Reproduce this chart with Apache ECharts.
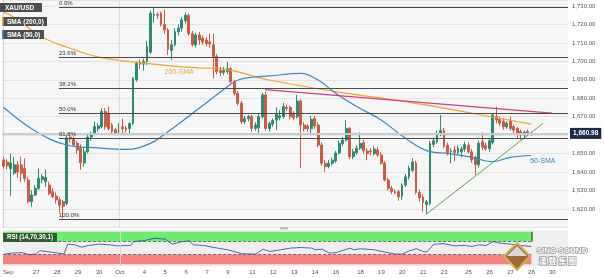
<!DOCTYPE html>
<html><head><meta charset="utf-8">
<script src="https://cdn.jsdelivr.net/npm/echarts@6/dist/echarts.min.js"></script>
<style>html,body{margin:0;padding:0;background:#fff}#c{width:604px;height:278px}</style>
</head><body><div id="c"></div>
<script>
const SLOTS = 162;
const dayLabels = ['Sep','27','28','29','30','Oct','4','5','6','7','9','11','12','13','14','16','18','19','20','21','23','25','26','27','28','30'];
const labelSlots = [1,9,15,21,27,33,40,46,52,58,64,71,77,83,89,95,102,108,114,120,126,133,139,145,151,157];
const monthSlot = 33;
// [open, close, low, high]
const ohlc = [
[1646.6,1643.3,1642,1648.4],[1645.5,1643.5,1641.5,1647],[1642,1645,1627,1650],[1639.5,1644,1638.5,1648.4],
[1644,1640,1637,1646],[1643.9,1639.4,1634.8,1648.4],[1642,1636.6,1634.8,1647.5],[1635.7,1624,1623,1637.5],
[1624,1627.6,1621.3,1630.3],[1627.6,1631.2,1627,1633],[1631.2,1636.6,1630.3,1642],[1636,1637.5,1634,1639],
[1634.8,1637,1632,1641.5],[1633,1628.5,1627.6,1634.8],[1629.4,1626.7,1625.8,1631.2],[1627,1625,1623,1629],
[1625,1622,1618,1626.5],[1624,1621.5,1615,1625],[1623,1658.5,1622,1660],[1659,1658,1656,1661],
[1658.3,1654.7,1653.8,1659.2],[1655.6,1652,1650,1657],[1653,1645,1641.2,1655],[1645,1651,1643,1653],
[1651,1659,1650,1661],[1659,1661,1657,1662],[1661,1664.6,1660,1667.3],[1663.5,1665,1662,1666.5],
[1664.6,1672.8,1663.7,1674.6],[1672.8,1664.6,1663,1674.6],[1672,1663.7,1662.5,1675.5],[1665.5,1662,1661,1666.5],
[1663,1661,1660,1664],[1661,1664.5,1660.1,1666.5],[1664.5,1663.5,1661,1669],[1664,1663,1661.5,1665],
[1663.7,1666.4,1660.1,1666.8],[1666.4,1690.8,1665.5,1691.5],[1690,1699,1689,1700],[1699.5,1698.5,1696,1701],
[1698.5,1700,1695,1701.5],[1700,1708,1698,1711],[1705,1726,1704,1727.5],[1725,1725.5,1721,1729.3],
[1725.5,1725,1723,1726.5],[1726,1720,1719,1727],[1720,1717,1715,1728],[1717,1706.5,1703.5,1718],
[1706,1709,1700.7,1711.5],[1709,1716,1708,1718],[1716,1718,1714,1720],[1718,1722.5,1716,1724],
[1722,1725,1720.5,1726.5],[1725,1715,1714,1726],[1715,1709,1708,1716.5],[1709,1714.3,1707.5,1715.5],
[1714.3,1711.6,1709,1716],[1712.5,1710.5,1709,1714],[1711.5,1709.5,1708,1713],[1710.5,1709.5,1707.5,1715],
[1709,1702.6,1690.8,1715],[1702.6,1694.4,1693,1704],[1695,1694,1692,1697],[1694,1695,1692.5,1697],
[1694.5,1696,1693,1699.8],[1696,1689,1688,1697],[1689,1682.7,1681.5,1690],[1682.7,1677.3,1676,1684],
[1677.3,1667.3,1666,1678.5],[1667.3,1669,1666,1670.5],[1669,1670,1667.5,1671],[1670,1663.7,1661.9,1671],
[1663.7,1665.5,1662.5,1667],[1664,1670,1661,1671.5],[1670,1681.8,1669,1683],[1681.8,1663.7,1662.5,1683.5],
[1663.7,1666.4,1662,1667.5],[1666,1668,1664.5,1669],[1668.2,1671.8,1662.8,1675],[1669.5,1670.5,1668,1673.5],
[1670,1675.5,1669,1677.5],[1675,1674.5,1673,1676.5],[1675,1670,1668.5,1676],[1672,1669.5,1668,1673],
[1670,1678.5,1669,1681.8],[1678.5,1665.5,1642.1,1679.5],[1665.5,1663.5,1662,1667],[1665,1663.5,1662,1666],
[1663.5,1668.5,1660,1670.5],[1669,1665,1663.5,1670.5],[1665.5,1654.7,1653.5,1667],[1654.7,1644.8,1643.5,1656],
[1644.8,1643,1640.2,1646.5],[1643,1644.8,1642,1646.5],[1644.8,1646.5,1643.5,1648],[1646,1650.4,1645,1651.5],
[1650.4,1655.6,1649.5,1657],[1655.5,1657.4,1654,1659],[1657.4,1663.7,1656.5,1668.2],[1663.7,1648.4,1647,1664.5],
[1648.4,1651,1647,1652.5],[1650.5,1653,1649.5,1654.5],[1653,1655.5,1652,1661.5],[1656,1651.5,1650,1657.5],
[1651.5,1650,1646.5,1653],[1651.5,1651,1649,1653],[1650,1652.5,1649,1654],[1652,1649.3,1648,1653.5],
[1649.3,1644.8,1644,1651],[1644.8,1635.7,1635,1646],[1635.7,1631.2,1630,1637],[1631.2,1629.4,1628,1632.5],
[1629.4,1629,1628,1630.5],[1629.4,1626.7,1624.5,1630.5],[1627,1633,1625,1634],[1633,1637.5,1632,1639],
[1637.5,1642,1636,1643.5],[1641,1645.5,1640,1647.5],[1645,1629,1628,1646],[1629,1626,1624,1630.5],
[1626.5,1623.5,1618.6,1628],[1622.5,1624,1617.5,1625],[1623,1655.6,1622,1657],[1655,1657,1653.5,1658.5],
[1656.5,1661,1655.5,1662.5],[1661,1662.5,1659.5,1670.9],[1662.5,1654,1653,1664],[1654.5,1650.5,1649,1656],
[1651,1651.3,1644.8,1653],[1652,1650.5,1646,1654],[1650.5,1653,1649.5,1654.5],[1651,1652.5,1648,1654],
[1652.5,1655,1651,1656.5],[1654.5,1651,1650,1656],[1651,1646.6,1645,1652.5],[1648,1644,1638.5,1649],
[1644,1655.6,1642.5,1657],[1656.5,1653.5,1652,1661.5],[1654.5,1652.7,1651.5,1656],[1652.7,1657,1651,1658],
[1656,1671,1655,1672],[1670,1668.2,1666.5,1675.5],[1668.5,1666.5,1665,1670],[1667.5,1664.6,1663,1669],
[1664.6,1666.5,1663.5,1667.5],[1668,1663.7,1662.5,1670],[1664.6,1662.8,1660.5,1665.5],[1663.7,1661,1658.5,1664.5],
[1662,1660.1,1657.5,1663],[1660.1,1661.5,1658,1662.5],[1661.9,1661,1659.5,1663],[1660.5,1660.98,1659.8,1661.8]
];
// [slot, value]
const sma200 = [[0,1726.5],[2,1725],[11,1713.2],[18,1707.8],[27,1702.4],[37,1699.7],[42,1698.6],[56,1696.4],[61,1696.2],[76,1689.9],[95,1683.6],[115,1678.2],[134,1671.9],[151,1666]];
const sma50 = [[0,1675],[9,1662.3],[18,1654.7],[27,1653.1],[35,1652.3],[42,1655.6],[47,1661.9],[56,1674.7],[64,1686.3],[67,1689.9],[71,1691.4],[76,1692.1],[85,1693.5],[90,1689.9],[95,1682.7],[101,1675.5],[108,1668.3],[115,1658.3],[122,1651.1],[127,1650.2],[133,1648.4],[140,1645.7],[145,1648],[151,1649]];
const rsi = [[0,31.5],[2,34.5],[5,36],[7,29.4],[9,31.5],[10,41.5],[12,39.4],[15,34.5],[17,32.5],[18,61.8],[20,59.8],[22,52.6],[24,57.7],[27,61.8],[30,59.8],[32,56.6],[36,57.7],[37,69.7],[40,72.8],[43,80],[46,76.9],[48,61.8],[51,69.7],[53,71.8],[54,59.7],[57,57.7],[60,51.5],[64,44.5],[68,32.4],[72,31.5],[74,46.6],[76,39.4],[79,44.5],[82,49.7],[85,51.5],[88,49.7],[89,44.5],[91,46.6],[93,34.5],[95,36],[99,49.7],[100,44.5],[102,47.7],[106,44.5],[109,37.5],[112,31.5],[114,31.5],[116,41.5],[118,47.7],[120,39.4],[121,37.5],[123,61.8],[126,63],[129,56.6],[132,57.7],[134,54.6],[136,59.8],[138,57.7],[140,69.7],[142,64.8],[145,61.8],[148,57.7],[151,54.6]];
const fibHigh = 1729.3, fibLow = 1614.5, fibStart = 15.8;
const fibPct = [0, 23.6, 38.2, 50, 61.8, 100];
const lastPrice = 1660.98;
const supportLine = [[120.85,1617.05],[154.3,1666.35]];
const resistLine = [[74.8,1684.7],[156.9,1672]];
const rsiUpper = 70, rsiLower = 30;
const sma200Tag = [50.2, 1694.3], sma50Tag = [154.3, 1646.0];

const lastSlot = ohlc.length - 1;
const cats = Array.from({length: SLOTS}, (_, i) => { const k = labelSlots.indexOf(i); return k >= 0 ? dayLabels[k] : ''; });
const fmt = v => v.toLocaleString('en-US', {minimumFractionDigits: 2, maximumFractionDigits: 2});
const FONT = 'Arial, "Liberation Sans", sans-serif';
const GREEN = '#2e8b72', RED = '#cf5b47';

const fibLines = fibPct.map(p => {
  const lv = fibHigh - p / 100 * (fibHigh - fibLow);
  return [{coord: [fibStart, lv], label: {formatter: p.toFixed(1) + '%'}}, {coord: [SLOTS - 0.5, lv]}];
});

const chart = echarts.init(document.getElementById('c'), null, {renderer: 'canvas'});
chart.setOption({
  animation: false,
  textStyle: {fontFamily: FONT},
  grid: [
    {left: 2, right: 36, top: 0, height: 227.5, show: true, backgroundColor: '#f6f6f6', borderWidth: 0},
    {left: 2, right: 36, top: 230, height: 36, show: true, backgroundColor: '#efefef', borderWidth: 0}
  ],
  xAxis: [
    {type: 'category', gridIndex: 0, data: cats, boundaryGap: true, show: false},
    {type: 'value', gridIndex: 0, min: -0.5, max: SLOTS - 0.5, show: false},
    {type: 'category', gridIndex: 1, data: cats, boundaryGap: true, axisLine: {show: false}, axisTick: {show: false},
     axisLabel: {interval: 0, fontSize: 6, color: '#555', margin: 3, fontFamily: FONT}, splitLine: {show: false}},
    {type: 'value', gridIndex: 1, min: -0.5, max: SLOTS - 0.5, show: false}
  ],
  yAxis: [
    {type: 'value', gridIndex: 0, position: 'right', min: 1610, max: 1733.25, interval: 10,
     axisLabel: {fontSize: 6, color: '#555', margin: 4, showMinLabel: false, showMaxLabel: false, formatter: fmt, fontFamily: FONT},
     splitLine: {lineStyle: {color: '#e4e4e4', width: 1}}, axisLine: {show: true, lineStyle: {color: '#d0d0d0'}}, axisTick: {show: false}},
    {type: 'value', gridIndex: 1, min: -5, max: 105, show: false}
  ],
  series: [
    {type: 'line', name: 'levels', xAxisIndex: 1, yAxisIndex: 0, data: [[fibStart, fibHigh]], symbol: 'none', lineStyle: {width: 0}, z: 1, silent: true,
     markLine: {symbol: ['none', 'none'], silent: true, animation: false,
       lineStyle: {color: '#4a4a4a', width: 1, type: 'solid'},
       label: {position: 'insideStartTop', fontSize: 6, color: '#333', distance: [0, 1], fontFamily: FONT},
       data: [
         [{coord: [monthSlot, 1610], lineStyle: {color: '#dedede', width: 1}, label: {show: false}}, {coord: [monthSlot, 1733.25]}],
         ...fibLines,
         [{coord: [-0.5, lastPrice], lineStyle: {color: '#c6cad3', width: 2},
           label: {show: true, position: 'end', distance: 2, formatter: fmt(lastPrice), color: '#fff', fontWeight: 'bold', fontSize: 6.5,
                   backgroundColor: '#1d2b4b', padding: [2, 3, 2, 3]}}, {coord: [SLOTS - 0.5, lastPrice]}]
       ]}},
    {type: 'candlestick', xAxisIndex: 0, yAxisIndex: 0, data: ohlc, barWidth: '68%', z: 3,
     itemStyle: {color: GREEN, color0: RED, borderColor: GREEN, borderColor0: RED, borderWidth: 1}},
    {type: 'line', name: 'sma200', xAxisIndex: 1, yAxisIndex: 0, data: sma200, smooth: 0.4, showSymbol: false, z: 4,
     lineStyle: {color: '#f0a334', width: 1.2},
     markPoint: {symbol: 'circle', symbolSize: 0, silent: true,
       data: [{coord: sma200Tag, label: {show: true, position: 'inside', formatter: '200-SMA', color: '#eaa545', fontSize: 7, fontFamily: FONT}}]}},
    {type: 'line', name: 'sma50', xAxisIndex: 1, yAxisIndex: 0, data: sma50, smooth: 0.4, showSymbol: false, z: 4,
     lineStyle: {color: '#3a87c8', width: 1.2},
     markPoint: {symbol: 'circle', symbolSize: 0, silent: true,
       data: [{coord: sma50Tag, label: {show: true, position: 'inside', formatter: '50-SMA', color: '#3a87c8', fontSize: 7, fontFamily: FONT}}]}},
    {type: 'line', name: 'resistance', xAxisIndex: 1, yAxisIndex: 0, data: resistLine, showSymbol: false, z: 4,
     lineStyle: {color: '#d23f7d', width: 1.2}},
    {type: 'line', name: 'support', xAxisIndex: 1, yAxisIndex: 0, data: supportLine, showSymbol: false, z: 4,
     lineStyle: {color: '#5aa84a', width: 1}},
    {type: 'line', name: 'rsi', xAxisIndex: 3, yAxisIndex: 1, data: rsi, showSymbol: false, z: 4,
     lineStyle: {color: '#2b3d9a', width: 0.8},
     markArea: {silent: true, data: [
       [{coord: [-0.5, rsiUpper], itemStyle: {color: '#70ec70', opacity: 1}}, {coord: [lastSlot, 100]}],
       [{coord: [-0.5, 0], itemStyle: {color: '#f58080', opacity: 1}}, {coord: [lastSlot, rsiLower]}]
     ]},
     markLine: {symbol: ['none', 'none'], silent: true, label: {show: false},
       lineStyle: {color: '#555', width: 0.8, type: [3, 2]},
       data: [
         [{coord: [-0.5, rsiUpper]}, {coord: [lastSlot, rsiUpper]}],
         [{coord: [-0.5, rsiLower]}, {coord: [lastSlot, rsiLower]}],
         [{coord: [lastSlot, rsiUpper], lineStyle: {color: '#2a6e2a', width: 1.5, type: 'solid'}}, {coord: [lastSlot, 100]}],
         [{coord: [monthSlot, -5], lineStyle: {color: '#d8d8d8', width: 1, type: 'solid'}}, {coord: [monthSlot, 105]}]
       ]}}
  ],
  graphic: [
    {type: 'rect', left: 0, top: 3, shape: {width: 42, height: 9}, style: {fill: '#4d4d4d'}, z: 10},
    {type: 'text', left: 5, top: 4.5, style: {text: 'XAU/USD', fill: '#fff', font: 'bold 6.5px ' + FONT}, z: 11},
    {type: 'rect', left: 2, top: 17, shape: {width: 45, height: 9}, style: {fill: '#4d4d4d'}, z: 10},
    {type: 'rect', left: 2, top: 17, shape: {width: 1.6, height: 9}, style: {fill: '#f0a334'}, z: 11},
    {type: 'text', left: 7, top: 18.5, style: {text: 'SMA (200,0)', fill: '#fff', font: 'bold 6.5px ' + FONT}, z: 11},
    {type: 'rect', left: 2, top: 30, shape: {width: 42, height: 9}, style: {fill: '#4d4d4d'}, z: 10},
    {type: 'rect', left: 2, top: 30, shape: {width: 1.6, height: 9}, style: {fill: '#3a87c8'}, z: 11},
    {type: 'text', left: 7, top: 31.5, style: {text: 'SMA (50,0)', fill: '#fff', font: 'bold 6.5px ' + FONT}, z: 11},
    {type: 'rect', left: 3, top: 233, shape: {width: 54, height: 9}, style: {fill: '#2f5a30'}, z: 10},
    {type: 'text', left: 7, top: 234.5, style: {text: 'RSI (14,70,30,1)', fill: '#fff', font: 'bold 6.3px ' + FONT}, z: 11},
    {type: 'rect', left: 280, top: 227, shape: {width: 8, height: 2.5}, style: {fill: '#bdbdbd'}, z: 10},
    {type: 'polygon', shape: {points: [[517,243],[530,256],[517,270],[504,256]]}, style: {fill: '#9a6a3a', stroke: '#d4b24c', lineWidth: 2}, z: 12},
    {type: 'polygon', shape: {points: [[517,246],[527,256],[507,256]]}, style: {fill: '#d8d8d8'}, z: 13},
    {type: 'text', left: 536, top: 246, style: {text: 'SINO SOUND', fill: '#fff', stroke: '#999', lineWidth: 1.5, font: 'bold 8px ' + FONT}, z: 12},
    {type: 'text', left: 538, top: 256, style: {text: '漢 聲 集 團', fill: '#fff', stroke: '#999', lineWidth: 1.5, font: 'bold 8px "Noto Sans CJK TC"'}, z: 12}
  ]
});
</script></body></html>
